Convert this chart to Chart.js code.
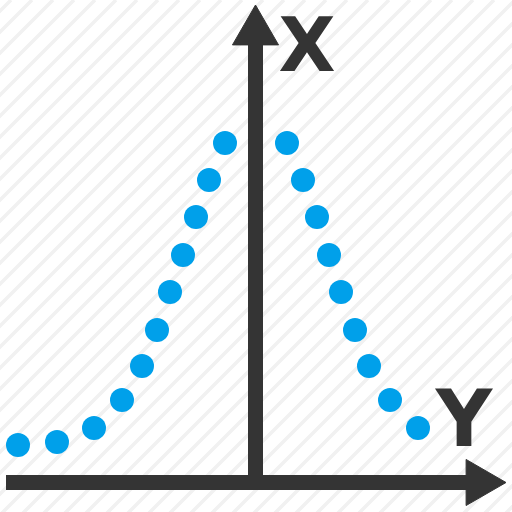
<!DOCTYPE html>
<html>
<head>
<meta charset="utf-8">
<script src="https://cdn.jsdelivr.net/npm/chart.js@4/dist/chart.umd.min.js"></script>
<style>
  html, body { margin: 0; padding: 0; background: #ffffff; }
  #c { display: block; }
</style>
</head>
<body>
<canvas id="c" width="512" height="512"></canvas>
<script>
// Gaussian dot curve (domain 0..512, y grows downward)
const curveX = [18, 57, 94, 122, 142, 157, 170, 183, 196, 209, 225, 287, 303, 317, 329, 341, 355, 369, 390, 418];
const curveY = [445, 442, 428, 400, 366, 330, 292, 255, 217, 180, 143, 143, 180, 217, 255, 292, 330, 366, 400, 428];

// Axis shafts
const hAxisX = [6, 470];
const hAxisY = [482.5, 482.5];
const vAxisX = [255.5, 255.5];
const vAxisY = [490, 40];

// Arrow heads (centre of triangles)
const arrowX = [255.5, 479.4];
const arrowY = [31.6, 482.5];
const arrowRot = [0, 90];

// Axis labels
const labelText = ['X', 'Y'];
const labelX = [307, 464];
const labelY = [71, 445.5];
const labelSize = [74, 78];

const AXIS_COLOR = '#343434';
const DOT_COLOR = '#00a0ea';

const toPts = (xs, ys) => xs.map((x, i) => ({ x: x, y: ys[i] }));

const stripes = {
  id: 'stripes',
  beforeDraw(chart) {
    const ctx = chart.ctx;
    ctx.save();
    ctx.fillStyle = '#ffffff';
    ctx.fillRect(0, 0, chart.width, chart.height);
    ctx.strokeStyle = '#f1f1f1';
    ctx.lineWidth = 3.5;
    for (let c = 11 - 21 * 2; c < 1100; c += 21) {
      ctx.beginPath();
      ctx.moveTo(c, 0);
      ctx.lineTo(c - 600, 600);
      ctx.stroke();
    }
    ctx.restore();
  }
};

const labels = {
  id: 'axisLabels',
  afterDatasetsDraw(chart) {
    const ctx = chart.ctx;
    const sx = chart.scales.x, sy = chart.scales.y;
    ctx.save();
    ctx.fillStyle = AXIS_COLOR;
    ctx.textAlign = 'center';
    ctx.textBaseline = 'alphabetic';
    labelText.forEach((t, i) => {
      ctx.font = 'bold ' + labelSize[i] + 'px "DejaVu Sans"';
      ctx.fillText(t, sx.getPixelForValue(labelX[i]), sy.getPixelForValue(labelY[i]));
    });
    ctx.restore();
  }
};

new Chart(document.getElementById('c'), {
  type: 'scatter',
  data: {
    datasets: [
      {
        label: 'curve',
        data: toPts(curveX, curveY),
        pointRadius: 12,
        pointBackgroundColor: DOT_COLOR,
        pointBorderWidth: 0,
        showLine: false,
        clip: false
      },
      {
        label: 'hAxis',
        data: toPts(hAxisX, hAxisY),
        showLine: true,
        borderColor: AXIS_COLOR,
        borderWidth: 15,
        borderCapStyle: 'butt',
        pointRadius: 0,
        clip: false
      },
      {
        label: 'vAxis',
        data: toPts(vAxisX, vAxisY),
        showLine: true,
        borderColor: AXIS_COLOR,
        borderWidth: 15,
        borderCapStyle: 'butt',
        pointRadius: 0,
        clip: false
      },
      {
        label: 'arrows',
        data: toPts(arrowX, arrowY),
        pointStyle: 'triangle',
        pointRadius: 26.6,
        pointRotation: arrowRot,
        pointBackgroundColor: AXIS_COLOR,
        pointBorderColor: AXIS_COLOR,
        pointBorderWidth: 1,
        showLine: false,
        clip: false
      }
    ]
  },
  options: {
    responsive: false,
    animation: false,
    devicePixelRatio: 1,
    layout: { padding: 0, autoPadding: false },
    plugins: { legend: { display: false }, tooltip: { enabled: false } },
    events: [],
    scales: {
      x: { type: 'linear', min: 0, max: 512, display: false },
      y: { type: 'linear', min: 0, max: 512, reverse: true, display: false }
    }
  },
  plugins: [stripes, labels]
});
</script>
</body>
</html>
